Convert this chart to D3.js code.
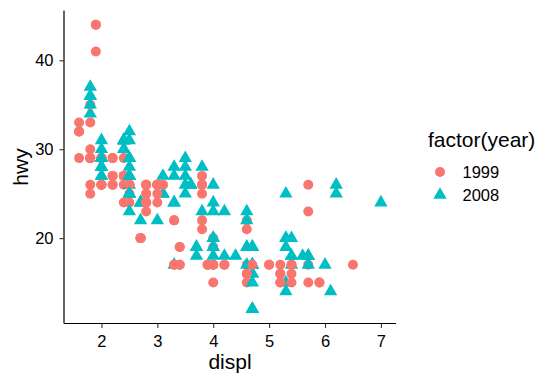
<!DOCTYPE html>
<html>
<head>
<meta charset="utf-8">
<script src="https://cdn.jsdelivr.net/npm/d3@7"></script>
<style>
  body { margin: 0; background: #fff; }
  svg { display: block; font-family: "Liberation Sans", Arial, sans-serif; }
</style>
</head>
<body>
<main></main>
<script>
// mpg: displ, year, hwy (one entry per car, dataset order)
const displ = [
  1.8,1.8,2.0,2.0,2.8,2.8,3.1,1.8,1.8,2.0,2.0,2.8,2.8,3.1,3.1,2.8,3.1,4.2,
  5.3,5.3,5.3,5.7,6.0,5.7,5.7,6.2,6.2,7.0,5.3,5.3,5.7,6.5,2.4,2.4,3.1,3.5,3.6,
  2.4,3.0,3.3,3.3,3.3,3.3,3.3,3.8,3.8,3.8,4.0,3.7,3.7,3.9,3.9,4.7,4.7,4.7,5.2,5.2,3.9,4.7,4.7,4.7,5.2,5.7,5.9,4.7,4.7,4.7,4.7,4.7,4.7,5.2,5.2,5.7,5.9,
  4.6,5.4,5.4,4.0,4.0,4.0,4.0,4.6,5.0,4.2,4.2,4.6,4.6,4.6,5.4,5.4,3.8,3.8,4.0,4.0,4.6,4.6,4.6,4.6,5.4,
  1.6,1.6,1.6,1.6,1.6,1.8,1.8,1.8,2.0,
  2.4,2.4,2.4,2.4,2.5,2.5,3.3,2.0,2.0,2.0,2.0,2.7,2.7,2.7,
  3.0,3.7,4.0,4.7,4.7,4.7,5.7,6.1,
  4.0,4.2,4.4,4.6,
  5.4,5.4,5.4,
  4.0,4.0,4.6,5.0,
  2.4,2.4,2.5,2.5,3.5,3.5,3.0,3.0,3.5,3.3,3.3,4.0,5.6,
  3.1,3.8,3.8,3.8,5.3,
  2.5,2.5,2.5,2.5,2.5,2.5,2.2,2.2,2.5,2.5,2.5,2.5,2.5,2.5,
  2.7,2.7,3.4,3.4,4.0,4.7,2.2,2.2,2.4,2.4,3.0,3.0,3.5,2.2,2.2,2.4,2.4,3.0,3.0,3.3,1.8,1.8,1.8,1.8,1.8,4.7,5.7,2.7,2.7,2.7,3.4,3.4,4.0,4.0,
  2.0,2.0,2.0,2.0,2.8,1.9,2.0,2.0,2.0,2.0,2.5,2.5,2.8,2.8,1.9,1.9,2.0,2.0,2.5,2.5,1.8,1.8,2.0,2.0,2.8,2.8,3.6
];
const year = [
  1999,1999,2008,2008,1999,1999,2008,1999,1999,2008,2008,1999,1999,2008,2008,1999,2008,2008,
  2008,2008,2008,1999,2008,1999,1999,2008,2008,2008,2008,2008,1999,1999,1999,2008,1999,2008,2008,
  1999,1999,1999,1999,2008,2008,2008,1999,1999,2008,2008,2008,2008,1999,1999,2008,2008,2008,1999,1999,1999,2008,2008,2008,1999,2008,1999,2008,2008,2008,2008,2008,2008,1999,1999,2008,1999,
  1999,1999,2008,1999,1999,1999,2008,2008,1999,1999,1999,1999,1999,2008,1999,2008,1999,1999,2008,2008,1999,1999,2008,2008,2008,
  1999,1999,1999,1999,1999,2008,2008,2008,2008,
  1999,1999,2008,2008,1999,1999,2008,1999,1999,2008,2008,2008,2008,2008,
  2008,2008,1999,1999,2008,2008,2008,2008,
  1999,2008,2008,1999,
  1999,1999,2008,
  1999,2008,2008,1999,
  1999,1999,2008,2008,2008,2008,1999,1999,2008,1999,1999,2008,2008,
  1999,1999,1999,2008,2008,
  1999,1999,2008,2008,2008,2008,1999,1999,1999,1999,2008,2008,2008,2008,
  1999,1999,1999,1999,2008,2008,1999,1999,2008,2008,1999,1999,2008,1999,1999,2008,2008,1999,1999,2008,1999,1999,1999,2008,2008,2008,2008,1999,1999,2008,1999,1999,2008,2008,
  1999,1999,2008,2008,1999,1999,1999,1999,2008,2008,2008,2008,1999,1999,1999,1999,1999,1999,2008,2008,1999,1999,2008,2008,1999,1999,2008
];
const hwy = [
  29,29,31,30,26,26,27,26,25,28,27,25,25,25,25,24,25,23,
  20,15,20,17,17,26,23,26,25,24,19,14,15,17,27,30,26,29,26,
  24,24,22,22,24,24,17,22,21,23,23,19,18,17,17,19,19,12,17,15,17,17,12,17,16,18,15,16,12,17,17,16,12,15,16,17,15,
  17,17,18,17,19,17,19,19,17,17,17,16,16,17,15,17,26,25,26,24,21,22,23,22,20,
  33,32,32,29,32,34,36,36,29,
  26,27,30,31,26,26,28,26,29,28,27,24,24,24,
  22,19,20,17,12,19,18,14,
  15,18,18,15,
  17,16,18,
  17,19,19,17,
  29,27,31,32,27,26,26,25,25,17,17,20,18,
  26,26,27,28,25,
  25,24,27,25,26,23,26,26,26,26,27,25,27,25,
  20,20,19,17,20,19,29,27,31,31,26,26,28,27,29,31,31,26,26,27,30,33,35,37,35,15,18,20,20,22,17,19,18,20,
  29,26,29,29,24,44,29,26,29,29,29,29,23,24,44,41,29,26,28,29,29,29,28,29,24,26,26
];

const yearLevels = ["1999", "2008"];
const xTicks = [2, 3, 4, 5, 6, 7];
const yTicks = [20, 30, 40];

const WIDTH = 559, HEIGHT = 385;
const panel = { left: 64, right: 396, top: 10.5, bottom: 323.5 };
const colors = ["#F8766D", "#00BFC4"];
const shapes = [d3.symbolCircle, d3.symbolTriangle];
const SYMBOL_SIZE = [78, 77];
const TICK_FONT = "16.5px";
const TITLE_FONT = "21px";

// ggplot style 5% expansion
function expand (ext) {
    var pad = (ext[1] - ext[0]) * 0.05;
    return [ext[0] - pad, ext[1] + pad];
}

const x = d3.scaleLinear().domain(expand(d3.extent(displ))).range([panel.left, panel.right]);
const y = d3.scaleLinear().domain(expand(d3.extent(hwy))).range([panel.bottom, panel.top]);
const color = d3.scaleOrdinal().domain(yearLevels).range(colors);
const shapeIdx = d3.scaleOrdinal().domain(yearLevels).range([0, 1]);

var svg = d3.select("main").append("svg")
            .attr("width", WIDTH)
            .attr("height", HEIGHT);

// points
var rows = displ.map(function (d, i) { return { displ: d, hwy: hwy[i], year: String(year[i]) }; });
svg.append("g").selectAll("path")
   .data(rows)
   .enter().append("path")
   .attr("transform", function (d) { return "translate(" + x(d.displ) + "," + y(d.hwy) + ")"; })
   .attr("d", function (d) {
       var k = shapeIdx(d.year);
       return d3.symbol().type(shapes[k]).size(SYMBOL_SIZE[k])();
   })
   .style("fill", function (d) { return color(d.year); });

// axes
var xAxis = svg.append("g")
               .attr("transform", "translate(0," + panel.bottom + ")")
               .call(d3.axisBottom(x).tickValues(xTicks).tickSize(4.5).tickPadding(7).tickFormat(d3.format("d")));
var yAxis = svg.append("g")
               .attr("transform", "translate(" + panel.left + ",0)")
               .call(d3.axisLeft(y).tickValues(yTicks).tickSize(4.5).tickPadding(6).tickFormat(d3.format("d")));

[xAxis, yAxis].forEach(function (ax) {
    ax.select(".domain").attr("stroke", "#000").attr("stroke-width", 1.2);
    ax.selectAll(".tick line").attr("stroke", "#333").attr("stroke-width", 1.1);
    ax.selectAll(".tick text")
      .style("font-family", "'Liberation Sans', Arial, sans-serif")
      .style("font-size", TICK_FONT)
      .attr("fill", "#000");
});
xAxis.select(".domain").attr("d", "M" + panel.left + ",0H" + panel.right);
yAxis.select(".domain").attr("d", "M0," + panel.top + "V" + panel.bottom);

// axis titles
svg.append("text")
   .attr("x", (panel.left + panel.right) / 2)
   .attr("y", 369)
   .attr("text-anchor", "middle")
   .style("font-size", TITLE_FONT)
   .text("displ");

svg.append("text")
   .attr("transform", "translate(28," + ((panel.top + panel.bottom) / 2) + ") rotate(-90)")
   .attr("text-anchor", "middle")
   .style("font-size", TITLE_FONT)
   .text("hwy");

// legend
var legend = svg.append("g").attr("transform", "translate(428,0)");
legend.append("text")
      .attr("x", 0)
      .attr("y", 147)
      .style("font-size", TITLE_FONT)
      .text("factor(year)");

yearLevels.forEach(function (lvl, i) {
    var cy = 172 + i * 23;
    legend.append("path")
          .attr("transform", "translate(12," + cy + ")")
          .attr("d", d3.symbol().type(shapes[i]).size(SYMBOL_SIZE[i])())
          .style("fill", color(lvl));
    legend.append("text")
          .attr("x", 34.5)
          .attr("y", cy + 5.5)
          .style("font-size", TICK_FONT)
          .text(lvl);
});
</script>
</body>
</html>
